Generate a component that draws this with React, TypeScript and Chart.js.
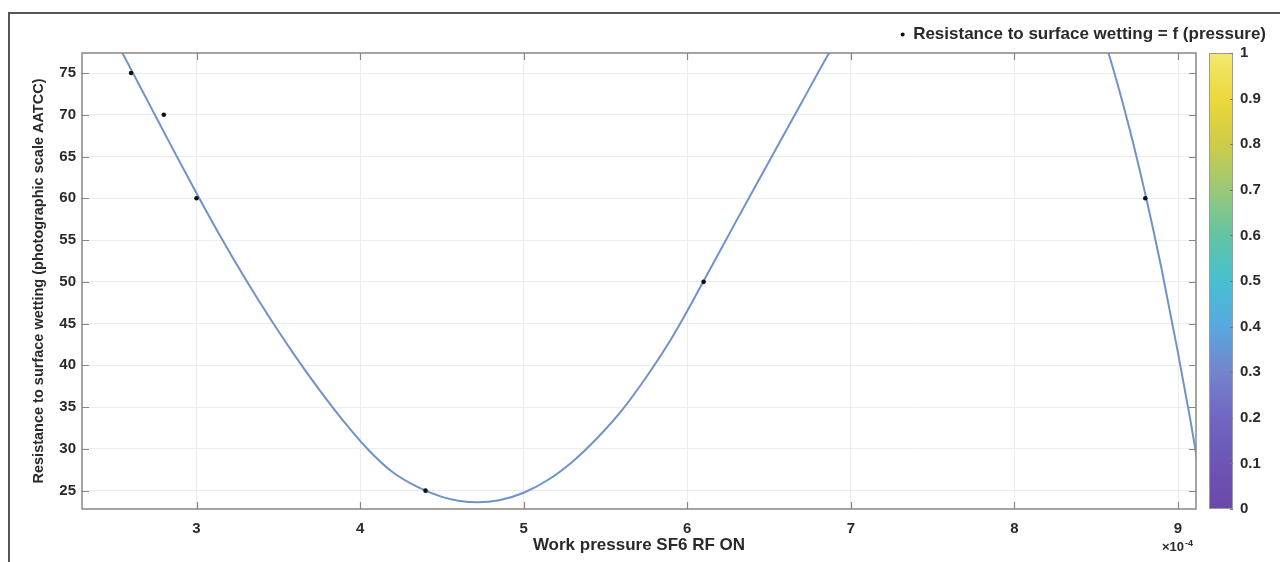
import React, { useEffect, useRef } from "react";
import { Chart, registerables } from "chart.js";

Chart.register(...registerables);

// Measured data points (pressure in units of 1e-4)
const pressureX = [2.6, 2.8, 3.0, 4.4, 6.1, 8.8];
const resistanceY = [75, 70, 60, 25, 50, 60];

// Fitted curve (parts above the axes are clipped)
const fitX = [2.4, 2.55, 2.7, 2.85, 3.0, 3.15, 3.3, 3.45, 3.6, 3.75, 3.9, 4.05, 4.2, 4.35, 4.5, 4.6, 4.72, 4.85, 5.0, 5.15, 5.3, 5.45, 5.6, 5.75, 5.9, 6.0, 6.1, 6.3, 6.5, 6.7, 6.9, 7.2, 7.5, 7.8, 8.0, 8.2, 8.4, 8.575, 8.7, 8.806, 8.9, 9.0, 9.075, 9.13];
const fitY = [83.0, 77.3, 71.7, 66.1, 60.6, 55.3, 50.3, 45.6, 41.2, 37.1, 33.3, 29.9, 27.2, 25.45, 24.25, 23.8, 23.6, 23.85, 24.75, 26.3, 28.5, 31.3, 34.6, 38.6, 43.1, 46.5, 50.1, 57.3, 64.4, 71.5, 78.5, 87.5, 94.0, 98.5, 99.5, 95.0, 87.5, 77.4, 68.6, 60.0, 51.5, 41.5, 33.5, 27.2];

const xRange = [2.3, 9.11];
const yRange = [22.8, 77.4];
const xStep = 1;
const yStep = 5;
const colorbarRange = [0, 1];
const colorbarStep = 0.1;

const legendLabel = "Resistance to surface wetting = f (pressure)";
const xTitle = "Work pressure SF6 RF ON";
const yTitle = "Resistance to surface wetting (photographic scale AATCC)";
const xMultiplierBase = "\u00d710";
const xMultiplierExp = "-4";

// parula-like colormap stops (as seen in the picture)
const colormapStops = ["#6a48a8", "#6d55b5", "#7066c2", "#7484cc", "#58a8e0", "#46c0d2", "#62c4a4", "#9ac878", "#cfcc48", "#ecd83a", "#f2ea70"];

const FONT = "'Liberation Sans', Arial, Helvetica, sans-serif";
const TEXT = "#2a2a2a";
const AXIS = "#8a8580";

const boxPlugin = {
  id: "matlabBox",
  afterDatasetsDraw(chart: any) {
    const { ctx, chartArea: a, scales } = chart;
    const x = scales.x, y = scales.y, cb = scales.cb;
    ctx.save();
    // inward ticks
    ctx.strokeStyle = AXIS;
    ctx.lineWidth = 1.2;
    const L = 7;
    ctx.beginPath();
    x.ticks.forEach((t: any) => {
      const px = Math.round(x.getPixelForValue(t.value)) + 0.5;
      ctx.moveTo(px, a.bottom); ctx.lineTo(px, a.bottom - L);
      ctx.moveTo(px, a.top); ctx.lineTo(px, a.top + L);
    });
    y.ticks.forEach((t: any) => {
      const py = Math.round(y.getPixelForValue(t.value)) + 0.5;
      ctx.moveTo(a.left, py); ctx.lineTo(a.left + L, py);
      ctx.moveTo(a.right, py); ctx.lineTo(a.right - L, py);
    });
    ctx.stroke();
    // box
    ctx.lineWidth = 1.5;
    ctx.strokeRect(a.left, a.top, a.right - a.left, a.bottom - a.top);

    // colorbar
    const bx0 = a.right + 13, bx1 = a.right + 37;
    const top = cb.getPixelForValue(colorbarRange[1]);
    const bot = cb.getPixelForValue(colorbarRange[0]);
    const g = ctx.createLinearGradient(0, bot, 0, top);
    colormapStops.forEach((c, i) => g.addColorStop(i / (colormapStops.length - 1), c));
    ctx.fillStyle = g;
    ctx.fillRect(bx0, top, bx1 - bx0, bot - top);
    ctx.strokeStyle = "#9a9a9a";
    ctx.lineWidth = 1;
    ctx.strokeRect(bx0 + 0.5, top + 0.5, bx1 - bx0 - 1, bot - top - 1);
    ctx.strokeStyle = "#777";
    ctx.beginPath();
    cb.ticks.forEach((t: any) => {
      const py = Math.round(cb.getPixelForValue(t.value)) + 0.5;
      ctx.moveTo(bx1, py); ctx.lineTo(bx1 - 3, py);
    });
    ctx.stroke();

    // x10^-4 multiplier
    ctx.fillStyle = TEXT;
    ctx.textBaseline = "middle";
    ctx.textAlign = "left";
    ctx.font = `bold 13px ${FONT}`;
    const bx = x.getPixelForValue(9) - 16;
    ctx.fillText(xMultiplierBase, bx, a.bottom + 38.5);
    const w = ctx.measureText(xMultiplierBase).width;
    ctx.font = `bold 9px ${FONT}`;
    ctx.fillText(xMultiplierExp, bx + w + 1, a.bottom + 34.5);
    ctx.restore();
  },
};

export default function App() {
  const ref = useRef<HTMLCanvasElement | null>(null);
  useEffect(() => {
    if (!ref.current) return;
    const tickFont = { family: FONT, size: 15, weight: "bold" };
    const chart = new Chart(ref.current, {
      type: "scatter",
      data: {
        datasets: [
          {
            label: "fit",
            data: fitX.map((v, i) => ({ x: v, y: fitY[i] })),
            showLine: true,
            borderColor: "#6f93c9",
            borderWidth: 2,
            pointRadius: 0,
            cubicInterpolationMode: "monotone",
            clip: 0,
            order: 2,
          } as any,
          {
            label: legendLabel,
            data: pressureX.map((v, i) => ({ x: v, y: resistanceY[i] })),
            backgroundColor: "#111",
            borderColor: "#111",
            pointRadius: 2.3,
            pointBorderWidth: 0,
            order: 1,
          } as any,
        ],
      },
      options: {
        animation: false,
        responsive: false,
        layout: { padding: { top: 12.5, right: 4, left: 0, bottom: 0 } },
        plugins: {
          tooltip: { enabled: false },
          legend: {
            position: "top",
            align: "end",
            labels: {
              filter: (item: any) => item.text === legendLabel,
              usePointStyle: true,
              pointStyle: "circle",
              boxHeight: 3,
              pointStyleWidth: 4,
              padding: 10,
              color: TEXT,
              font: { family: FONT, size: 17, weight: "bold" },
            },
          },
        },
        scales: {
          x: {
            type: "linear",
            position: "bottom",
            min: xRange[0],
            max: xRange[1],
            afterFit: (s: any) => { s.height = 51.5; },
            ticks: { stepSize: xStep, includeBounds: false, padding: 10.5, color: TEXT, font: tickFont },
            grid: { color: "#ececec", drawTicks: false },
            border: { display: false },
            title: { display: true, text: xTitle, color: TEXT, padding: { top: 0, bottom: 4.5 }, font: { family: FONT, size: 17, weight: "bold" } },
          },
          y: {
            type: "linear",
            position: "left",
            min: yRange[0],
            max: yRange[1],
            afterFit: (s: any) => { s.width = 82; },
            ticks: { stepSize: yStep, includeBounds: false, padding: 6, color: TEXT, font: tickFont },
            grid: { color: "#ececec", drawTicks: false },
            border: { display: false },
            title: { display: true, text: yTitle, color: TEXT, padding: { top: 30, bottom: 0 }, font: { family: FONT, size: 14.5, weight: "bold" } },
          },
          cb: {
            type: "linear",
            position: "right",
            min: colorbarRange[0],
            max: colorbarRange[1],
            afterFit: (s: any) => { s.width = 80; },
            ticks: {
              stepSize: colorbarStep,
              padding: 44,
              color: TEXT,
              font: tickFont,
              callback: (v: any) => String(Number(Number(v).toFixed(1))),
            },
            grid: { display: false, drawTicks: false },
            border: { display: false },
          },
        },
      } as any,
      plugins: [boxPlugin],
    });
    return () => chart.destroy();
  }, []);

  return (
    <div style={{ position: "absolute", left: 0, top: 0, width: 1280, height: 562, background: "#fff", overflow: "hidden" }}>
      <div style={{ position: "absolute", left: 8, top: 12, right: -4, bottom: -4, borderTop: "2px solid #555", borderLeft: "2px solid #555" }} />
      <canvas ref={ref} width={1280} height={562} style={{ position: "absolute", left: 0, top: 0, display: "block" }} />
    </div>
  );
}
